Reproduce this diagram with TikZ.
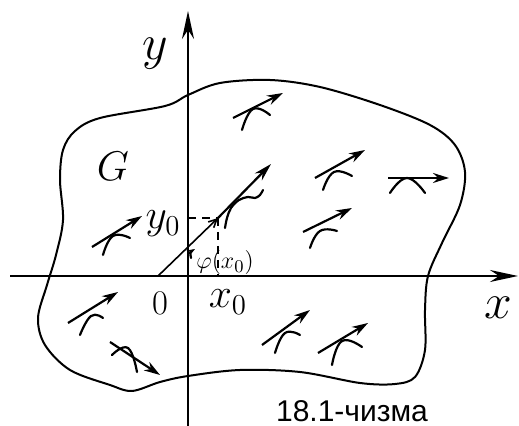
\documentclass[tikz,border=0pt]{standalone}
\usepackage{amsmath,amssymb}
\usepackage{fontspec}
\newfontfamily\capfont{Liberation Sans}
\usetikzlibrary{arrows.meta,calc}
\tikzset{
  axis/.style={line width=1pt, -{Stealth[length=14pt,width=6pt]}},
  border/.style={line width=1pt, line join=round},
  field/.style={line width=1.1pt, -{Stealth[length=8pt,width=5pt]}},
  solarc/.style={line width=1.1pt, line cap=round},
  guide/.style={dash pattern=on 4pt off 3pt, line width=0.8pt},
  lbl/.style={inner sep=0pt},
}
\newcommand{\fs}[1]{\fontsize{#1}{#1}\selectfont}
\begin{document}
\begin{tikzpicture}[x=0.5pt,y=-0.5pt]
 \useasboundingbox (0,0) rectangle (519,426);
 \clip (0,0) rectangle (519,426);
 \coordinate (O) at (188,276);
 \coordinate (xl) at (10,276);
 \coordinate (xr) at (518,276);
 \coordinate (yb) at (188,430);
 \coordinate (yt) at (188,11);
 \draw[border] plot[smooth cycle, tension=0.55] coordinates {
   (188,95) (165,106) (100,118) (75,131) (63,150) (60,180) (63,220)
   (56,255) (47,285) (38,318) (45,345) (70,370) (110,385) (132,391)
   (160,382) (188,376) (240,370) (300,372) (360,383) (395,384)
   (415,377) (425,350) (425,310) (428,276) (442,243) (460,205)
   (465,172) (455,145) (430,125) (380,105) (320,87) (270,80) (220,83)};
 \draw[axis] (xl) -- (xr);
 \draw[axis] (yb) -- (yt);
 \node[lbl] (ylab) at (155,54) {\fs{36}$y$};
 \node[lbl] (xlab) at (498,308) {\fs{28}$x$};
 \node[lbl] (G) at (113,166) {\fs{22}$G$};
 \node[lbl] (zero) at (160,303) {\fs{18}$0$};
 \node[lbl] (x0) at (228,302) {\fs{22}$x_0$};
 \node[lbl] (y0) at (163,224) {\fs{20}$y_0$};
 \node[lbl] (phi) at (225,263) {\fs{13}$\varphi(x_0)$};
 \coordinate (M) at (218,218);
 \coordinate (T0) at (158,276);
 \coordinate (T1) at (271,164);
 \coordinate (My) at (188,218);
 \coordinate (Mx) at (218,276);
 \draw[guide] (My) -- (M);
 \draw[guide] (M) -- (Mx);
 \draw[line width=0.8pt, -{Straight Barb[length=4pt,width=4pt]}] (T0) -- (M);
 \draw[field, -{Stealth[length=9pt,width=5pt]}] (M) -- (T1);
 \draw[solarc] plot[smooth, tension=0.6] coordinates {
   (225,228) (227,218) (231,208) (239,200) (248,197) (255,198) (260,195) (263,190)};
 \draw[solarc, -{Stealth[length=4pt,width=3pt]}] (191,258) .. controls (190,252) .. (195,249);
 \foreach \sx/\sy/\ex/\ey/\ax/\ay/\bx/\by/\cx/\cy [count=\i] in {
   233/118/283/93/242/130/253/109/270/115,
   315/178/365/150/323/190/334/172/352/176,
   388/178/449/178/390/193/407/178/425/193,
   303/232/352/208/310/248/320/231/337/231,
   92/247/142/216/103/255/113/236/130/238,
   68/323/118/292/80/335/91/316/103/318,
   110/342/160/375/112/355/128/348/137/372,
   262/345/310/310/275/353/285/333/300/335,
   318/353/368/323/332/365/342/341/362/347} {
   \coordinate (s\i) at (\sx,\sy);
   \coordinate (e\i) at (\ex,\ey);
   \draw[field] (s\i) -- (e\i);
   \draw[solarc] plot[smooth, tension=0.8] coordinates {(\ax,\ay) (\bx,\by) (\cx,\cy)};
 }
 \node[lbl, anchor=north] (cap) at (352,400) {\capfont\fs{15}18.1-чизма};
\end{tikzpicture}
\end{document}
